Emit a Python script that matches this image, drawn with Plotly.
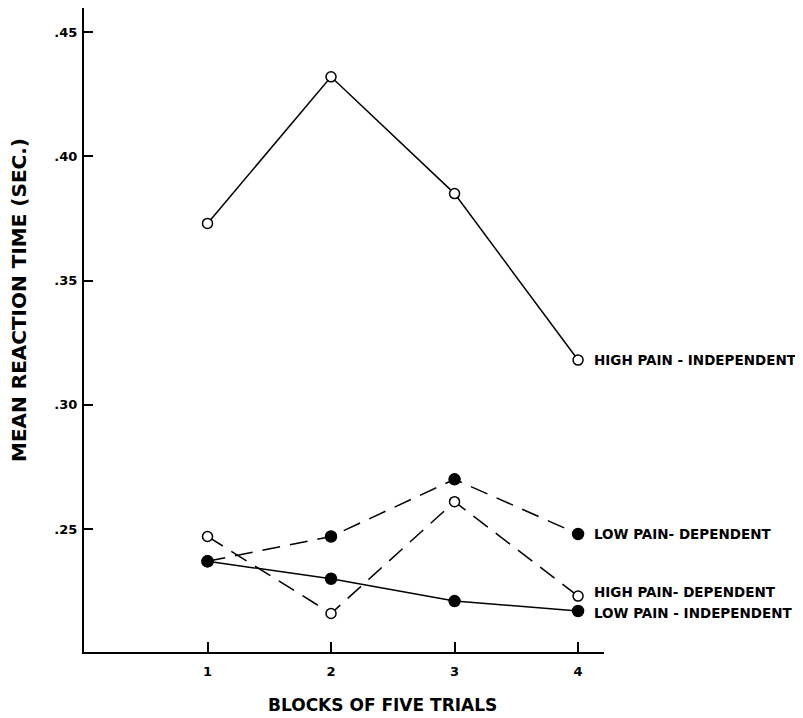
import plotly.graph_objects as go

blocks = [1, 2, 3, 4]
high_pain_independent = [0.373, 0.432, 0.385, 0.318]
low_pain_dependent = [0.237, 0.247, 0.270, 0.248]
high_pain_dependent = [0.247, 0.216, 0.261, 0.223]
low_pain_independent = [0.237, 0.230, 0.221, 0.217]

series_names = ["HIGH PAIN - INDEPENDENT", "LOW PAIN- DEPENDENT",
                "HIGH PAIN- DEPENDENT", "LOW PAIN - INDEPENDENT"]

y_tick_vals = [0.25, 0.30, 0.35, 0.40, 0.45]
y_tick_text = [".25", ".30", ".35", ".40", ".45"]
x_tick_text = ["1", "2", "3", "4"]

FONT = "DejaVu Sans"
W, H = 795, 710
L, T, PW, PH = 76, 0, 520, 644

fig = go.Figure()

specs = [
    (high_pain_independent, series_names[0], "solid", "open"),
    (low_pain_dependent, series_names[1], "dash", "filled"),
    (high_pain_dependent, series_names[2], "dash", "open"),
    (low_pain_independent, series_names[3], "solid", "filled"),
]
for vals, name, dash, sym in specs:
    fig.add_trace(go.Scatter(
        x=blocks, y=vals, name=name, mode="lines",
        line=dict(color="black", width=1.5, dash="18px,10px" if dash == "dash" else "solid"),
        showlegend=False))
for vals, name, dash, sym in specs:
    fig.add_trace(go.Scatter(
        x=blocks, y=vals, name=name, mode="markers",
        marker=dict(symbol="circle",
                    color="black" if sym == "filled" else "white",
                    size=11 if sym == "filled" else 10,
                    line=dict(color="black", width=1.5)),
        showlegend=False))

label_y_offsets = [0, 0, 0.0015, -0.001]
for (vals, name, dash, sym), off in zip(specs, label_y_offsets):
    fig.add_annotation(x=blocks[-1], y=vals[-1] + off, text="<b>" + name + "</b>", xref="x", yref="y",
                       xanchor="left", yanchor="middle", xshift=14, showarrow=False,
                       font=dict(family=FONT, size=13.5, color="black"))

# x-axis title: centre at page y ~705 -> figure y 697
fig.add_annotation(xref="paper", yref="paper", x=(382 - 8 - L) / PW, y=(PH - (697 - T)) / PH,
                   text="<b>BLOCKS OF FIVE TRIALS</b>", showarrow=False, xanchor="center",
                   yanchor="middle", font=dict(family=FONT, size=17, color="black"))
fig.add_annotation(xref="paper", yref="paper", x=(19 - 8 - L) / PW, y=(652 - 300) / PH,
                   text="<b>MEAN REACTION TIME (SEC.)</b>", showarrow=False, textangle=-90,
                   xanchor="center", yanchor="middle",
                   font=dict(family=FONT, size=20, color="black"))

fig.update_layout(
    width=W, height=H,
    margin=dict(l=L, r=W - L - PW, t=T, b=H - T - PH),
    paper_bgcolor="white", plot_bgcolor="white",
    font=dict(family=FONT, color="black"),
    xaxis=dict(range=[0, 4.21], tickvals=blocks, ticktext=["<b>" + t + "</b>" for t in x_tick_text],
               showgrid=False, zeroline=False, showline=True, linecolor="black",
               linewidth=2, ticks="inside", ticklen=10, tickwidth=2, tickcolor="black",
               tickfont=dict(family=FONT, size=13), ticklabelstandoff=6),
    yaxis=dict(range=[0.2005, 0.4597], tickvals=y_tick_vals, ticktext=["<b>" + t + "</b>" for t in y_tick_text],
               showgrid=False, zeroline=False, showline=True, linecolor="black",
               linewidth=2, ticks="inside", ticklen=9, tickwidth=2, tickcolor="black",
               tickfont=dict(family=FONT, size=13), ticklabelstandoff=2),
)

fig.write_html("out.html")
